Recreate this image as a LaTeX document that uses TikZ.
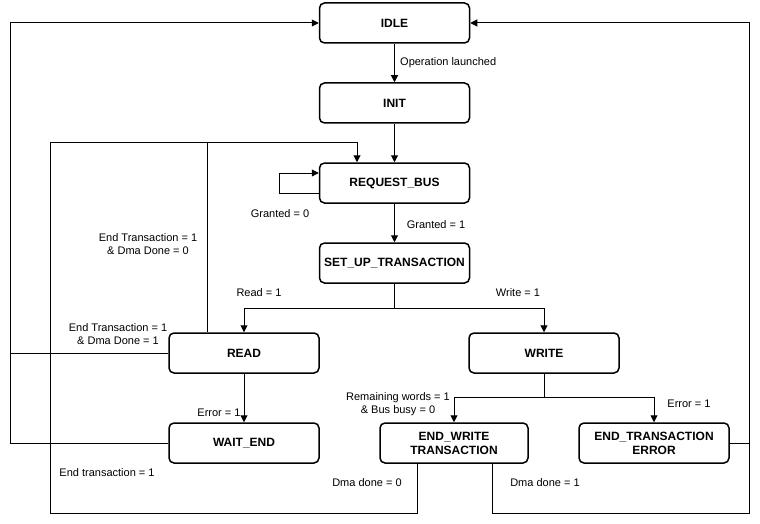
\documentclass[tikz,border=0pt]{standalone}
\usepackage{fontspec}
\setmainfont{Liberation Sans}
\usetikzlibrary{arrows.meta,calc}
\begin{document}
\begin{tikzpicture}[x=1pt,y=-1pt,
  state/.style={draw, line width=1.5pt, rounded corners=5pt, minimum width=150pt, minimum height=40pt,
    inner sep=0pt, font=\bfseries\fontsize{12}{14}\selectfont, align=center},
  lbl/.style={font=\fontsize{11}{13}\selectfont, align=center, inner sep=0pt},
  conn/.style={line width=1pt, -{Triangle[length=7pt,width=7pt]}},
  plain/.style={line width=1pt}]
\useasboundingbox (0,0) rectangle (760,524);
\fill[white] (0,0) rectangle (760,524);
% states
\node[state] (idle) at (394.5,23) {IDLE};
\node[state] (init) at (394.5,103) {INIT};
\node[state] (req) at (394.5,183) {REQUEST\_BUS};
\node[state] (setup) at (394.5,263) {SET\_UP\_TRANSACTION};
\node[state] (read) at (244,353) {READ};
\node[state] (write) at (544,353) {WRITE};
\node[state] (wait) at (244,443) {WAIT\_END};
\node[state, minimum width=148pt] (endw) at (454,443) {END\_WRITE\\TRANSACTION};
\node[state] (ende) at (654,443) {END\_TRANSACTION\\ERROR};
% junction coordinates
\coordinate (split1) at (394.5,308);
\coordinate (split2) at (544,397);
\coordinate (ll) at (10,23);
\coordinate (rr) at (749,23);
\coordinate (tl) at (50,143);
\coordinate (bl) at (50,513);
\coordinate (br) at (749,513);
\coordinate (loopa) at ($(req.west)+(0,10)$);
\coordinate (loopb) at ($(req.west)+(0,-10)$);
% connectors
\draw[conn] (idle) -- (init);
\draw[conn] (init) -- (req);
\draw[conn] (loopa) -- ++(-39,0) |- (loopb);
\draw[conn] (req) -- (setup);
\draw[plain] (setup) -- (split1);
\draw[conn] (split1) -| (read);
\draw[conn] (split1) -| (write);
\draw[conn] (read) -- (wait);
\draw[plain] (write) -- (split2);
\draw[conn] (split2) -| (endw);
\draw[conn] (split2) -| (ende);
\draw[conn] (ende.east) -| (rr) -- (idle.east);
\draw[plain] (read.west) -- (read.west -| ll);
\draw[conn] (wait.west) -| (ll) -- (idle.west);
\draw[conn] ([xshift=-37pt]endw.south) |- (bl) -- (tl) -| ([xshift=-37.5pt]req.north);
\draw[plain] ([xshift=-37pt]read.north) -- ([xshift=-37pt]read.north |- tl);
\draw[plain] ([xshift=38pt]endw.south) |- (br) -- (ende.east -| br);
% labels
\node[lbl, anchor=west] (l1) at (400,63) {Operation launched};
\node[lbl] (l2) at (280,214) {Granted = 0};
\node[lbl] (l3) at (436,225) {Granted = 1};
\node[lbl] (l4) at (148,244) {End Transaction = 1\\\& Dma Done = 0};
\node[lbl] (l5) at (259,293) {Read = 1};
\node[lbl] (l6) at (518,293) {Write = 1};
\node[lbl] (l7) at (118,334) {End Transaction = 1\\\& Dma Done = 1};
\node[lbl] (l8) at (219,413) {Error = 1};
\node[lbl] (l9) at (107,473) {End transaction = 1};
\node[lbl] (l10) at (398,404) {Remaining words = 1\\\& Bus busy = 0};
\node[lbl] (l11) at (689,404) {Error = 1};
\node[lbl] (l12) at (367,483) {Dma done = 0};
\node[lbl] (l13) at (545,483) {Dma done = 1};
\end{tikzpicture}
\end{document}
